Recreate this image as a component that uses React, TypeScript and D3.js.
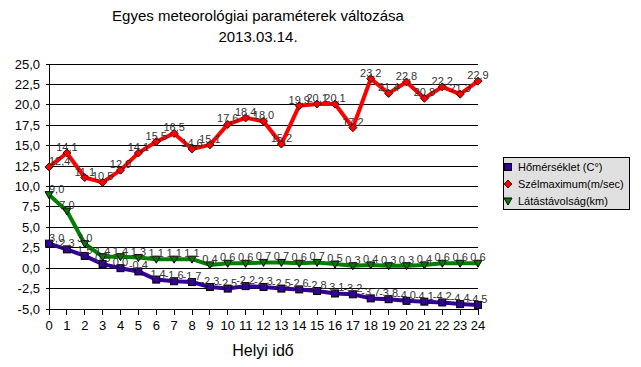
import React from "react";
import * as d3 from "d3";

// hourly readings, 0..24
const hours = d3.range(0, 25);
const temperature = [3.0, 2.3, 1.5, 0.5, 0.0, -0.4, -1.4, -1.6, -1.7, -2.3, -2.5, -2.2, -2.3, -2.5, -2.6, -2.8, -3.1, -3.2, -3.7, -3.8, -4.0, -4.1, -4.2, -4.4, -4.5];
const windMax = [12.4, 14.1, 11.1, 10.5, 12.0, 14.1, 15.5, 16.5, 14.6, 15.1, 17.6, 18.4, 18.0, 15.2, 19.9, 20.1, 20.1, 17.2, 23.2, 21.4, 22.8, 20.8, 22.2, 21.3, 22.9];
const visibility = [9.0, 7.0, 3.0, 1.4, 1.4, 1.3, 1.1, 1.1, 1.1, 0.4, 0.6, 0.6, 0.7, 0.7, 0.6, 0.7, 0.5, 0.3, 0.4, 0.3, 0.3, 0.4, 0.6, 0.6, 0.6];
const yTicks = d3.range(-5, 25.01, 2.5);

const seriesNames = ["Hőmérséklet (C°)", "Szélmaximum(m/sec)", "Látástávolság(km)"];

const fmt = (v: number) => v.toFixed(1).replace(".", ",");

const W = 641;
const H = 367;
const FONT = "'Liberation Sans', Arial, sans-serif";

type Series = { name: string; values: number[]; color: string; marker: "square" | "diamond" | "triangle" };

const series: Series[] = [
  { name: seriesNames[0], values: temperature, color: "#330099", marker: "square" },
  { name: seriesNames[1], values: windMax, color: "#ff0000", marker: "diamond" },
  { name: seriesNames[2], values: visibility, color: "#008000", marker: "triangle" },
];

function Marker({ kind, x, y, color }: { kind: Series["marker"]; x: number; y: number; color: string }) {
  if (kind === "square") {
    return <rect x={x - 3.5} y={y - 3.5} width={7} height={7} fill={color} stroke="#000" strokeWidth={1} />;
  }
  if (kind === "diamond") {
    return <path d={`M${x},${y - 4}L${x + 4},${y}L${x},${y + 4}L${x - 4},${y}Z`} fill={color} stroke="#400" strokeWidth={1} />;
  }
  return <path d={`M${x - 4},${y - 3}L${x + 4},${y - 3}L${x},${y + 4}Z`} fill={color} stroke="#000" strokeWidth={1} />;
}

export default function App() {
  const x = d3.scaleLinear().domain([0, 24]).range([49, 478]);
  const y = d3.scaleLinear().domain([-5, 25]).range([309, 64]);

  const line = d3
    .line<number>()
    .x((_, i) => x(hours[i]))
    .y((d) => y(d));

  return (
    <svg width={W} height={H} style={{ position: "absolute", left: 0, top: 0, background: "#fff" }} fontFamily={FONT}>
      {/* title */}
      <text x={258} y={21} textAnchor="middle" fontSize={15} fill="#000">
        Egyes meteorológiai paraméterek változása
      </text>
      <text x={258} y={42} textAnchor="middle" fontSize={15} fill="#000">
        2013.03.14.
      </text>

      {/* grid + y axis */}
      {yTicks.map((t) => (
        <g key={t}>
          <line x1={46} x2={478} y1={y(t)} y2={y(t)} stroke="#000" strokeWidth={1} shapeRendering="crispEdges" />
          <text x={40} y={y(t) + 4.5} textAnchor="end" fontSize={13} fill="#000">
            {fmt(t)}
          </text>
        </g>
      ))}
      <line x1={x(0)} x2={x(0)} y1={y(25)} y2={y(-5) + 5} stroke="#000" strokeWidth={1} shapeRendering="crispEdges" />

      {/* x axis */}
      {hours.map((h) => (
        <g key={h}>
          <line x1={x(h)} x2={x(h)} y1={y(-5)} y2={y(-5) + 6} stroke="#000" strokeWidth={1} shapeRendering="crispEdges" />
          <text x={x(h)} y={330} textAnchor="middle" fontSize={13} fill="#000">
            {h}
          </text>
        </g>
      ))}
      <text x={263} y={356} textAnchor="middle" fontSize={16} fill="#000">
        Helyi idő
      </text>

      {/* series */}
      {series.map((s) => (
        <g key={s.name}>
          <path d={line(s.values) || ""} fill="none" stroke={s.color} strokeWidth={4} strokeLinejoin="round" />
          {s.values.map((v, i) => (
            <Marker key={i} kind={s.marker} x={x(hours[i])} y={y(v)} color={s.color} />
          ))}
        </g>
      ))}
      {series.map((s) => (
        <g key={s.name + "-labels"}>
          {s.values.map((v, i) => (
            <text
              key={i}
              x={i === 0 ? x(0) : x(hours[i])}
              y={y(v) - 2}
              textAnchor={i === 0 ? "start" : "middle"}
              fontSize={11}
              fill="#333"
            >
              {fmt(v)}
            </text>
          ))}
        </g>
      ))}

      {/* legend */}
      <rect x={503.5} y={157.5} width={126} height={52} fill="#e0e0e0" stroke="#000" strokeWidth={1} />
      {series.map((s, i) => (
        <g key={s.name + "-legend"}>
          <Marker kind={s.marker} x={508} y={167 + i * 17} color={s.color} />
          <text x={518} y={171 + i * 17} fontSize={11} fill="#000">
            {s.name}
          </text>
        </g>
      ))}
    </svg>
  );
}
